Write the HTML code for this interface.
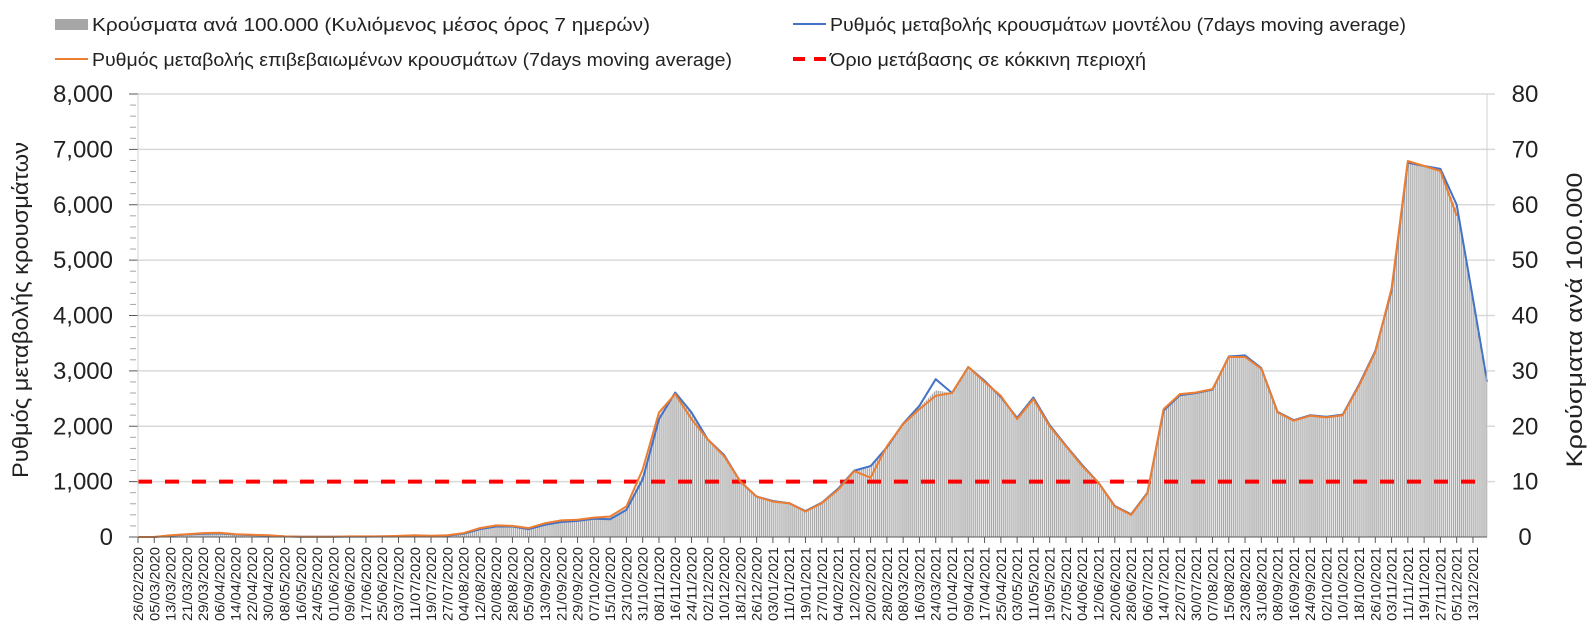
<!DOCTYPE html>
<html><head><meta charset="utf-8">
<style>
html,body{margin:0;padding:0;background:#fff;}
svg{display:block;font-family:"Liberation Sans","DejaVu Sans",sans-serif;}
</style></head>
<body>
<svg id="chart" width="1596" height="642" viewBox="0 0 1596 642" xmlns="http://www.w3.org/2000/svg">
<defs>
<pattern id="barStripes" patternUnits="userSpaceOnUse" width="2.035" height="10">
<rect x="0" y="0" width="2.035" height="10" fill="#ececec"/>
<rect x="0" y="0" width="1" height="10" fill="#a2a2a2"/>
</pattern>
</defs>
<g id="legend">
<g>
<rect x="55" y="19" width="33" height="11" fill="#a6a6a6"/>
<text x="92" y="31" font-size="18" fill="#222" textLength="558" lengthAdjust="spacingAndGlyphs">Κρούσματα ανά 100.000 (Κυλιόμενος μέσος όρος 7 ημερών)</text>
</g>
<g>
<line x1="793" y1="24" x2="826" y2="24" stroke="#4472c4" stroke-width="2"/>
<text x="830" y="31" font-size="18" fill="#222" textLength="576" lengthAdjust="spacingAndGlyphs">Ρυθμός μεταβολής κρουσμάτων μοντέλου (7days moving average)</text>
</g>
<g>
<line x1="55" y1="59" x2="88" y2="59" stroke="#ed7d31" stroke-width="2"/>
<text x="92" y="66" font-size="18" fill="#222" textLength="640" lengthAdjust="spacingAndGlyphs">Ρυθμός μεταβολής επιβεβαιωμένων κρουσμάτων (7days moving average)</text>
</g>
<g>
<line x1="793" y1="59" x2="826" y2="59" stroke="#ff0000" stroke-width="4" stroke-dasharray="12,9"/>
<text x="830" y="66" font-size="18" fill="#222" textLength="316" lengthAdjust="spacingAndGlyphs">Όριο μετάβασης σε κόκκινη περιοχή</text>
</g>
</g>
<g id="grid"></g>
<g id="bars"></g>
<g id="threshold"></g>
<g id="lines"></g>
<g id="axes"></g>
<text transform="translate(28,310) rotate(-90)" text-anchor="middle" font-size="22" fill="#222" textLength="336" lengthAdjust="spacingAndGlyphs">Ρυθμός μεταβολής κρουσμάτων</text>
<text transform="translate(1582,320) rotate(-90)" text-anchor="middle" font-size="22" fill="#222" textLength="295" lengthAdjust="spacingAndGlyphs">Κρούσματα ανά 100.000</text>
</svg>
<script>
// ---- data ----
const dates = ["26/02/2020","05/03/2020","13/03/2020","21/03/2020","29/03/2020","06/04/2020","14/04/2020","22/04/2020","30/04/2020","08/05/2020","16/05/2020","24/05/2020","01/06/2020","09/06/2020","17/06/2020","25/06/2020","03/07/2020","11/07/2020","19/07/2020","27/07/2020","04/08/2020","12/08/2020","20/08/2020","28/08/2020","05/09/2020","13/09/2020","21/09/2020","29/09/2020","07/10/2020","15/10/2020","23/10/2020","31/10/2020","08/11/2020","16/11/2020","24/11/2020","02/12/2020","10/12/2020","18/12/2020","26/12/2020","03/01/2021","11/01/2021","19/01/2021","27/01/2021","04/02/2021","12/02/2021","20/02/2021","28/02/2021","08/03/2021","16/03/2021","24/03/2021","01/04/2021","09/04/2021","17/04/2021","25/04/2021","03/05/2021","11/05/2021","19/05/2021","27/05/2021","04/06/2021","12/06/2021","20/06/2021","28/06/2021","06/07/2021","14/07/2021","22/07/2021","30/07/2021","07/08/2021","15/08/2021","23/08/2021","31/08/2021","08/09/2021","16/09/2021","24/09/2021","02/10/2021","10/10/2021","18/10/2021","26/10/2021","03/11/2021","11/11/2021","19/11/2021","27/11/2021","05/12/2021","13/12/2021","20/12/2021"];
const tickLabelCount = 83;
const confirmedRate = [0,0,30,50,70,75,50,40,30,10,5,5,5,10,10,10,20,30,20,30,70,160,210,200,160,250,300,310,350,370,550,1220,2250,2580,2130,1760,1460,1000,730,640,610,460,610,850,1190,1070,1640,2040,2310,2550,2600,3070,2800,2550,2130,2490,2000,1640,1280,980,550,400,790,2310,2580,2610,2670,3250,3250,3040,2250,2100,2190,2160,2200,2730,3340,4490,6790,6700,6610,5800,null,null];
const modelRate = [0,0,25,45,60,65,45,35,25,10,5,5,5,8,8,10,15,25,20,25,60,140,190,190,140,220,270,290,330,320,490,1040,2130,2610,2250,1760,1480,1000,730,650,610,470,620,870,1200,1280,1620,2050,2370,2850,2600,3070,2820,2530,2150,2520,2020,1650,1300,980,560,410,800,2280,2560,2600,2660,3260,3280,3050,2260,2110,2200,2170,2210,2750,3360,4450,6760,6700,6650,6000,4300,2800];
const casesPer100k = [0,0,0.3,0.5,0.7,0.75,0.5,0.4,0.3,0.1,0.05,0.05,0.05,0.1,0.1,0.1,0.2,0.3,0.2,0.3,0.7,1.6,2.1,2.0,1.6,2.4,2.9,3.0,3.4,3.5,5.2,11.3,22,26.1,22.3,17.6,14.7,10,7.3,6.4,6.1,4.6,6.1,8.6,11.9,12.5,16.3,20.4,23.4,26.5,26,30.7,28.1,25.4,21.4,25,20.1,16.4,12.9,9.8,5.5,4.0,7.9,23,25.7,26.1,26.7,32.5,32.6,30.4,22.5,21,21.9,21.6,22,27.4,33.5,44.5,67.8,67,66.3,59,43,28];
const leftTicks = [0,1000,2000,3000,4000,5000,6000,7000,8000];
const rightTicks = [0,10,20,30,40,50,60,70,80];
const threshold = 1000;

// ---- axes ----
const X0 = 138, PX_PER_DAY = 2.035, Y0 = 537, YTOP = 94, X_RIGHT = 1487;
const LMAX = 8000, RMAX = 80;
function dayIndex(s){const [d,m,y]=s.split('/').map(Number);return Math.round((Date.UTC(y,m-1,d)-Date.UTC(2020,1,26))/86400000);}
function xDate(s){return X0 + dayIndex(s)*PX_PER_DAY;}
function yLeft(v){return Y0 - v/LMAX*(Y0-YTOP);}
function yRight(v){return Y0 - v/RMAX*(Y0-YTOP);}
const NS="http://www.w3.org/2000/svg";
function mk(tag,attrs,parent){const e=document.createElementNS(NS,tag);for(const k in attrs)e.setAttribute(k,attrs[k]);parent.appendChild(e);return e;}
const gGrid=document.getElementById('grid'),gBars=document.getElementById('bars'),gThr=document.getElementById('threshold'),gLines=document.getElementById('lines'),gAxes=document.getElementById('axes');

leftTicks.forEach((t,i)=>{
  const y=yLeft(t);
  if(t>0){const gl=mk('line',{x1:X0,x2:X_RIGHT+8,y1:y,y2:y,stroke:'#d9d9d9','stroke-width':1.5},gGrid);
  
  }
  const tk=mk('line',{x1:X0-9,x2:X0,y1:y,y2:y,stroke:'#595959','stroke-width':1},gAxes);
  
  
  const lb=mk('text',{x:113,y:y+8,'text-anchor':'end','font-size':24,fill:'#222'},gAxes);
  lb.textContent=t.toLocaleString('en-US');
  
  
  if(i<leftTicks.length-1){for(let k=1;k<5;k++){const yy=yLeft(t+k*200);
    const mt=mk('line',{x1:X0-8,x2:X0-2,y1:yy,y2:yy,stroke:'#a6a6a6','stroke-width':1},gAxes);
    
    }}
});
rightTicks.forEach(t=>{
  const y=yRight(t);
  const lb=mk('text',{x:1525,y:y+8,'text-anchor':'middle','font-size':24,fill:'#222'},gAxes);
  lb.textContent=String(t);
  
  
});
const la=mk('line',{x1:X0,x2:X0,y1:YTOP,y2:Y0,stroke:'#d0d0d0','stroke-width':1},gAxes);


const ra=mk('line',{x1:X_RIGHT,x2:X_RIGHT,y1:YTOP,y2:Y0,stroke:'#d0d0d0','stroke-width':1},gAxes);



// bars (cases per 100k) as striped area
let ap='M'+xDate(dates[0])+','+Y0;
casesPer100k.forEach((v,i)=>{ap+=' L'+xDate(dates[i]).toFixed(1)+','+yRight(v).toFixed(1);});
ap+=' L'+xDate(dates[dates.length-1]).toFixed(1)+','+Y0+' Z';
const bar=mk('path',{d:ap,fill:'url(#barStripes)',stroke:'none'},gBars);



// threshold
const th=mk('line',{x1:X0,x2:X_RIGHT-10,y1:yLeft(threshold),y2:yLeft(threshold),stroke:'#ff0000','stroke-width':4,'stroke-dasharray':'14,13'},gThr);



function linePath(arr){let d='',pen=false;arr.forEach((v,i)=>{if(v===null){pen=false;return;}d+=(pen?' L':' M')+xDate(dates[i]).toFixed(1)+','+yLeft(v).toFixed(1);pen=true;});return d;}
const bl=mk('path',{d:linePath(modelRate),fill:'none',stroke:'#4472c4','stroke-width':2,'stroke-linejoin':'round'},gLines);


const ol=mk('path',{d:linePath(confirmedRate),fill:'none',stroke:'#ed7d31','stroke-width':2,'stroke-linejoin':'round'},gLines);



// x axis
const xa=mk('line',{x1:X0,x2:X_RIGHT,y1:Y0,y2:Y0,stroke:'#595959','stroke-width':1},gAxes);


for(let i=0;i<tickLabelCount;i++){
  const x=xDate(dates[i]);
  const tk=mk('line',{x1:x,x2:x,y1:Y0,y2:Y0+6,stroke:'#595959','stroke-width':1},gAxes);
  
  
  const lb=mk('text',{transform:'translate('+(x+5)+',547) rotate(-90)','text-anchor':'end','font-size':14,fill:'#222',textLength:74,lengthAdjust:'spacingAndGlyphs'},gAxes);
  lb.textContent=dates[i];
  
  
}
</script>
</body></html>
